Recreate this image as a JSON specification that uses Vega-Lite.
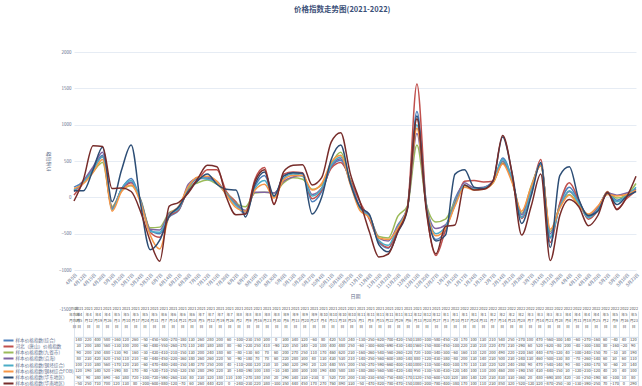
{
"$schema": "https://vega.github.io/schema/vega-lite/v6.json",
"background": "white",
"padding": {"left": 1, "top": 6, "right": 4, "bottom": 2},
"title": {"text": "价格指数走势图(2021-2022)", "fontSize": 7.5, "font": "Noto Sans CJK SC", "color": "#3b5078", "fontWeight": "bold", "anchor": "middle", "dx": 20, "offset": 35.5},
"config": {
  "font": "Noto Sans CJK SC",
  "view": {"stroke": null},
  "axis": {"labelFont": "Noto Sans CJK SC", "labelFontSize": 4.5, "labelColor": "#5f6f8c", "titleFont": "Noto Sans CJK SC", "titleFontSize": 5, "titleColor": "#5f6f8c", "titleFontWeight": "normal", "domain": false, "ticks": false, "gridColor": "#dfe7f1", "gridWidth": 0.8},
  "concat": {"spacing": 6}
},
"datasets": {
  "names": [
    {"k": 1, "name": "样本价格指数(综合)"},
    {"k": 2, "name": "河北（唐山）价格指数"},
    {"k": 3, "name": "样本价格指数(九省市)"},
    {"k": 4, "name": "样本价格指数(沿海)"},
    {"k": 5, "name": "样本价格指数(钢坯综合)"},
    {"k": 6, "name": "样本价格指数(钢材综合FOB)"},
    {"k": 7, "name": "样本价格指数(华东地区)"},
    {"k": 8, "name": "样本价格指数(华南地区)"}
  ]
},
"data": {"values": [
{"d":"2021-04-05","k":1,"v":140},{"d":"2021-04-05","k":2,"v":30},{"d":"2021-04-05","k":3,"v":90},{"d":"2021-04-05","k":4,"v":80},{"d":"2021-04-05","k":5,"v":100},{"d":"2021-04-05","k":6,"v":120},{"d":"2021-04-05","k":7,"v":90},{"d":"2021-04-05","k":8,"v":-50},
{"d":"2021-04-12","k":1,"v":220},{"d":"2021-04-12","k":2,"v":200},{"d":"2021-04-12","k":3,"v":200},{"d":"2021-04-12","k":4,"v":230},{"d":"2021-04-12","k":5,"v":210},{"d":"2021-04-12","k":6,"v":190},{"d":"2021-04-12","k":7,"v":90},{"d":"2021-04-12","k":8,"v":250},
{"d":"2021-04-19","k":1,"v":400},{"d":"2021-04-19","k":2,"v":380},{"d":"2021-04-19","k":3,"v":350},{"d":"2021-04-19","k":4,"v":420},{"d":"2021-04-19","k":5,"v":380},{"d":"2021-04-19","k":6,"v":340},{"d":"2021-04-19","k":7,"v":380},{"d":"2021-04-19","k":8,"v":710},
{"d":"2021-04-26","k":1,"v":580},{"d":"2021-04-26","k":2,"v":560},{"d":"2021-04-26","k":3,"v":480},{"d":"2021-04-26","k":4,"v":620},{"d":"2021-04-26","k":5,"v":560},{"d":"2021-04-26","k":6,"v":520},{"d":"2021-04-26","k":7,"v":690},{"d":"2021-04-26","k":8,"v":700},
{"d":"2021-05-03","k":1,"v":-160},{"d":"2021-05-03","k":2,"v":-130},{"d":"2021-05-03","k":3,"v":-130},{"d":"2021-05-03","k":4,"v":-150},{"d":"2021-05-03","k":5,"v":-170},{"d":"2021-05-03","k":6,"v":-190},{"d":"2021-05-03","k":7,"v":-60},{"d":"2021-05-03","k":8,"v":120},
{"d":"2021-05-10","k":1,"v":120},{"d":"2021-05-10","k":2,"v":100},{"d":"2021-05-10","k":3,"v":90},{"d":"2021-05-10","k":4,"v":110},{"d":"2021-05-10","k":5,"v":120},{"d":"2021-05-10","k":6,"v":80},{"d":"2021-05-10","k":7,"v":380},{"d":"2021-05-10","k":8,"v":130},
{"d":"2021-05-17","k":1,"v":260},{"d":"2021-05-17","k":2,"v":200},{"d":"2021-05-17","k":3,"v":160},{"d":"2021-05-17","k":4,"v":210},{"d":"2021-05-17","k":5,"v":230},{"d":"2021-05-17","k":6,"v":170},{"d":"2021-05-17","k":7,"v":720},{"d":"2021-05-17","k":8,"v":80},
{"d":"2021-05-24","k":1,"v":-50},{"d":"2021-05-24","k":2,"v":-60},{"d":"2021-05-24","k":3,"v":-30},{"d":"2021-05-24","k":4,"v":-40},{"d":"2021-05-24","k":5,"v":-60},{"d":"2021-05-24","k":6,"v":-80},{"d":"2021-05-24","k":7,"v":-100},{"d":"2021-05-24","k":8,"v":-200},
{"d":"2021-05-31","k":1,"v":-450},{"d":"2021-05-31","k":2,"v":-480},{"d":"2021-05-31","k":3,"v":-420},{"d":"2021-05-31","k":4,"v":-440},{"d":"2021-05-31","k":5,"v":-470},{"d":"2021-05-31","k":6,"v":-520},{"d":"2021-05-31","k":7,"v":-720},{"d":"2021-05-31","k":8,"v":-600},
{"d":"2021-06-07","k":1,"v":-500},{"d":"2021-06-07","k":2,"v":-550},{"d":"2021-06-07","k":3,"v":-410},{"d":"2021-06-07","k":4,"v":-450},{"d":"2021-06-07","k":5,"v":-480},{"d":"2021-06-07","k":6,"v":-710},{"d":"2021-06-07","k":7,"v":-590},{"d":"2021-06-07","k":8,"v":-880},
{"d":"2021-06-14","k":1,"v":-270},{"d":"2021-06-14","k":2,"v":-260},{"d":"2021-06-14","k":3,"v":-210},{"d":"2021-06-14","k":4,"v":-220},{"d":"2021-06-14","k":5,"v":-240},{"d":"2021-06-14","k":6,"v":-250},{"d":"2021-06-14","k":7,"v":-260},{"d":"2021-06-14","k":8,"v":-120},
{"d":"2021-06-21","k":1,"v":-180},{"d":"2021-06-21","k":2,"v":-170},{"d":"2021-06-21","k":3,"v":-150},{"d":"2021-06-21","k":4,"v":-160},{"d":"2021-06-21","k":5,"v":-150},{"d":"2021-06-21","k":6,"v":-120},{"d":"2021-06-21","k":7,"v":-130},{"d":"2021-06-21","k":8,"v":-70},
{"d":"2021-06-28","k":1,"v":130},{"d":"2021-06-28","k":2,"v":110},{"d":"2021-06-28","k":3,"v":130},{"d":"2021-06-28","k":4,"v":180},{"d":"2021-06-28","k":5,"v":140},{"d":"2021-06-28","k":6,"v":150},{"d":"2021-06-28","k":7,"v":80},{"d":"2021-06-28","k":8,"v":60},
{"d":"2021-07-05","k":1,"v":260},{"d":"2021-07-05","k":2,"v":240},{"d":"2021-07-05","k":3,"v":200},{"d":"2021-07-05","k":4,"v":260},{"d":"2021-07-05","k":5,"v":270},{"d":"2021-07-05","k":6,"v":280},{"d":"2021-07-05","k":7,"v":230},{"d":"2021-07-05","k":8,"v":260},
{"d":"2021-07-12","k":1,"v":280},{"d":"2021-07-12","k":2,"v":380},{"d":"2021-07-12","k":3,"v":240},{"d":"2021-07-12","k":4,"v":260},{"d":"2021-07-12","k":5,"v":250},{"d":"2021-07-12","k":6,"v":290},{"d":"2021-07-12","k":7,"v":320},{"d":"2021-07-12","k":8,"v":440},
{"d":"2021-07-19","k":1,"v":200},{"d":"2021-07-19","k":2,"v":380},{"d":"2021-07-19","k":3,"v":180},{"d":"2021-07-19","k":4,"v":220},{"d":"2021-07-19","k":5,"v":200},{"d":"2021-07-19","k":6,"v":220},{"d":"2021-07-19","k":7,"v":180},{"d":"2021-07-19","k":8,"v":420},
{"d":"2021-07-26","k":1,"v":60},{"d":"2021-07-26","k":2,"v":80},{"d":"2021-07-26","k":3,"v":60},{"d":"2021-07-26","k":4,"v":50},{"d":"2021-07-26","k":5,"v":40},{"d":"2021-07-26","k":6,"v":30},{"d":"2021-07-26","k":7,"v":110},{"d":"2021-07-26","k":8,"v":0},
{"d":"2021-08-02","k":1,"v":-100},{"d":"2021-08-02","k":2,"v":-60},{"d":"2021-08-02","k":3,"v":-80},{"d":"2021-08-02","k":4,"v":-90},{"d":"2021-08-02","k":5,"v":-110},{"d":"2021-08-02","k":6,"v":-140},{"d":"2021-08-02","k":7,"v":100},{"d":"2021-08-02","k":8,"v":-240},
{"d":"2021-08-09","k":1,"v":-230},{"d":"2021-08-09","k":2,"v":-220},{"d":"2021-08-09","k":3,"v":-130},{"d":"2021-08-09","k":4,"v":-180},{"d":"2021-08-09","k":5,"v":-200},{"d":"2021-08-09","k":6,"v":-190},{"d":"2021-08-09","k":7,"v":-270},{"d":"2021-08-09","k":8,"v":-230},
{"d":"2021-08-16","k":1,"v":150},{"d":"2021-08-16","k":2,"v":250},{"d":"2021-08-16","k":3,"v":60},{"d":"2021-08-16","k":4,"v":70},{"d":"2021-08-16","k":5,"v":120},{"d":"2021-08-16","k":6,"v":100},{"d":"2021-08-16","k":7,"v":180},{"d":"2021-08-16","k":8,"v":220},
{"d":"2021-08-23","k":1,"v":300},{"d":"2021-08-23","k":2,"v":410},{"d":"2021-08-23","k":3,"v":70},{"d":"2021-08-23","k":4,"v":70},{"d":"2021-08-23","k":5,"v":230},{"d":"2021-08-23","k":6,"v":180},{"d":"2021-08-23","k":7,"v":350},{"d":"2021-08-23","k":8,"v":380},
{"d":"2021-08-30","k":1,"v":0},{"d":"2021-08-30","k":2,"v":-90},{"d":"2021-08-30","k":3,"v":60},{"d":"2021-08-30","k":4,"v":60},{"d":"2021-08-30","k":5,"v":10},{"d":"2021-08-30","k":6,"v":-10},{"d":"2021-08-30","k":7,"v":20},{"d":"2021-08-30","k":8,"v":-100},
{"d":"2021-09-06","k":1,"v":300},{"d":"2021-09-06","k":2,"v":320},{"d":"2021-09-06","k":3,"v":200},{"d":"2021-09-06","k":4,"v":220},{"d":"2021-09-06","k":5,"v":260},{"d":"2021-09-06","k":6,"v":240},{"d":"2021-09-06","k":7,"v":290},{"d":"2021-09-06","k":8,"v":350},
{"d":"2021-09-13","k":1,"v":340},{"d":"2021-09-13","k":2,"v":350},{"d":"2021-09-13","k":3,"v":270},{"d":"2021-09-13","k":4,"v":280},{"d":"2021-09-13","k":5,"v":320},{"d":"2021-09-13","k":6,"v":300},{"d":"2021-09-13","k":7,"v":340},{"d":"2021-09-13","k":8,"v":440},
{"d":"2021-09-20","k":1,"v":320},{"d":"2021-09-20","k":2,"v":340},{"d":"2021-09-20","k":3,"v":250},{"d":"2021-09-20","k":4,"v":300},{"d":"2021-09-20","k":5,"v":290},{"d":"2021-09-20","k":6,"v":300},{"d":"2021-09-20","k":7,"v":330},{"d":"2021-09-20","k":8,"v":450},
{"d":"2021-09-27","k":1,"v":-60},{"d":"2021-09-27","k":2,"v":-20},{"d":"2021-09-27","k":3,"v":110},{"d":"2021-09-27","k":4,"v":40},{"d":"2021-09-27","k":5,"v":20},{"d":"2021-09-27","k":6,"v":100},{"d":"2021-09-27","k":7,"v":-230},{"d":"2021-09-27","k":8,"v":170},
{"d":"2021-10-04","k":1,"v":80},{"d":"2021-10-04","k":2,"v":100},{"d":"2021-10-04","k":3,"v":170},{"d":"2021-10-04","k":4,"v":130},{"d":"2021-10-04","k":5,"v":120},{"d":"2021-10-04","k":6,"v":190},{"d":"2021-10-04","k":7,"v":0},{"d":"2021-10-04","k":8,"v":270},
{"d":"2021-10-11","k":1,"v":420},{"d":"2021-10-11","k":2,"v":400},{"d":"2021-10-11","k":3,"v":460},{"d":"2021-10-11","k":4,"v":430},{"d":"2021-10-11","k":5,"v":440},{"d":"2021-10-11","k":6,"v":480},{"d":"2021-10-11","k":7,"v":520},{"d":"2021-10-11","k":8,"v":760},
{"d":"2021-10-18","k":1,"v":510},{"d":"2021-10-18","k":2,"v":480},{"d":"2021-10-18","k":3,"v":620},{"d":"2021-10-18","k":4,"v":530},{"d":"2021-10-18","k":5,"v":555},{"d":"2021-10-18","k":6,"v":580},{"d":"2021-10-18","k":7,"v":720},{"d":"2021-10-18","k":8,"v":890},
{"d":"2021-10-25","k":1,"v":240},{"d":"2021-10-25","k":2,"v":250},{"d":"2021-10-25","k":3,"v":230},{"d":"2021-10-25","k":4,"v":210},{"d":"2021-10-25","k":5,"v":200},{"d":"2021-10-25","k":6,"v":180},{"d":"2021-10-25","k":7,"v":200},{"d":"2021-10-25","k":8,"v":330},
{"d":"2021-11-01","k":1,"v":-130},{"d":"2021-11-01","k":2,"v":-60},{"d":"2021-11-01","k":3,"v":-160},{"d":"2021-11-01","k":4,"v":-140},{"d":"2021-11-01","k":5,"v":-150},{"d":"2021-11-01","k":6,"v":-180},{"d":"2021-11-01","k":7,"v":-130},{"d":"2021-11-01","k":8,"v":-50},
{"d":"2021-11-08","k":1,"v":-250},{"d":"2021-11-08","k":2,"v":-300},{"d":"2021-11-08","k":3,"v":-260},{"d":"2021-11-08","k":4,"v":-250},{"d":"2021-11-08","k":5,"v":-270},{"d":"2021-11-08","k":6,"v":-280},{"d":"2021-11-08","k":7,"v":-230},{"d":"2021-11-08","k":8,"v":-470},
{"d":"2021-11-15","k":1,"v":-620},{"d":"2021-11-15","k":2,"v":-600},{"d":"2021-11-15","k":3,"v":-540},{"d":"2021-11-15","k":4,"v":-560},{"d":"2021-11-15","k":5,"v":-590},{"d":"2021-11-15","k":6,"v":-560},{"d":"2021-11-15","k":7,"v":-650},{"d":"2021-11-15","k":8,"v":-820},
{"d":"2021-11-22","k":1,"v":-700},{"d":"2021-11-22","k":2,"v":-690},{"d":"2021-11-22","k":3,"v":-560},{"d":"2021-11-22","k":4,"v":-600},{"d":"2021-11-22","k":5,"v":-660},{"d":"2021-11-22","k":6,"v":-580},{"d":"2021-11-22","k":7,"v":-750},{"d":"2021-11-22","k":8,"v":-780},
{"d":"2021-11-29","k":1,"v":-420},{"d":"2021-11-29","k":2,"v":-430},{"d":"2021-11-29","k":3,"v":-260},{"d":"2021-11-29","k":4,"v":-380},{"d":"2021-11-29","k":5,"v":-400},{"d":"2021-11-29","k":6,"v":-420},{"d":"2021-11-29","k":7,"v":-480},{"d":"2021-11-29","k":8,"v":-470},
{"d":"2021-12-06","k":1,"v":-150},{"d":"2021-12-06","k":2,"v":-140},{"d":"2021-12-06","k":3,"v":-120},{"d":"2021-12-06","k":4,"v":-140},{"d":"2021-12-06","k":5,"v":-140},{"d":"2021-12-06","k":6,"v":-140},{"d":"2021-12-06","k":7,"v":-170},{"d":"2021-12-06","k":8,"v":-150},
{"d":"2021-12-13","k":1,"v":1180},{"d":"2021-12-13","k":2,"v":1560},{"d":"2021-12-13","k":3,"v":720},{"d":"2021-12-13","k":4,"v":880},{"d":"2021-12-13","k":5,"v":1000},{"d":"2021-12-13","k":6,"v":950},{"d":"2021-12-13","k":7,"v":1120},{"d":"2021-12-13","k":8,"v":1080},
{"d":"2021-12-20","k":1,"v":-100},{"d":"2021-12-20","k":2,"v":-150},{"d":"2021-12-20","k":3,"v":-100},{"d":"2021-12-20","k":4,"v":-120},{"d":"2021-12-20","k":5,"v":-110},{"d":"2021-12-20","k":6,"v":-130},{"d":"2021-12-20","k":7,"v":-150},{"d":"2021-12-20","k":8,"v":-200},
{"d":"2021-12-27","k":1,"v":-580},{"d":"2021-12-27","k":2,"v":-800},{"d":"2021-12-27","k":3,"v":-340},{"d":"2021-12-27","k":4,"v":-430},{"d":"2021-12-27","k":5,"v":-500},{"d":"2021-12-27","k":6,"v":-530},{"d":"2021-12-27","k":7,"v":-600},{"d":"2021-12-27","k":8,"v":-780},
{"d":"2022-01-03","k":1,"v":-450},{"d":"2022-01-03","k":2,"v":-450},{"d":"2022-01-03","k":3,"v":-300},{"d":"2022-01-03","k":4,"v":-380},{"d":"2022-01-03","k":5,"v":-400},{"d":"2022-01-03","k":6,"v":-430},{"d":"2022-01-03","k":7,"v":-520},{"d":"2022-01-03","k":8,"v":-400},
{"d":"2022-01-10","k":1,"v":-20},{"d":"2022-01-10","k":2,"v":-100},{"d":"2022-01-10","k":3,"v":-60},{"d":"2022-01-10","k":4,"v":-80},{"d":"2022-01-10","k":5,"v":-100},{"d":"2022-01-10","k":6,"v":-120},{"d":"2022-01-10","k":7,"v":320},{"d":"2022-01-10","k":8,"v":-380},
{"d":"2022-01-17","k":1,"v":170},{"d":"2022-01-17","k":2,"v":220},{"d":"2022-01-17","k":3,"v":160},{"d":"2022-01-17","k":4,"v":200},{"d":"2022-01-17","k":5,"v":170},{"d":"2022-01-17","k":6,"v":140},{"d":"2022-01-17","k":7,"v":380},{"d":"2022-01-17","k":8,"v":170},
{"d":"2022-01-24","k":1,"v":100},{"d":"2022-01-24","k":2,"v":230},{"d":"2022-01-24","k":3,"v":110},{"d":"2022-01-24","k":4,"v":130},{"d":"2022-01-24","k":5,"v":110},{"d":"2022-01-24","k":6,"v":100},{"d":"2022-01-24","k":7,"v":140},{"d":"2022-01-24","k":8,"v":100},
{"d":"2022-01-31","k":1,"v":130},{"d":"2022-01-31","k":2,"v":210},{"d":"2022-01-31","k":3,"v":120},{"d":"2022-01-31","k":4,"v":140},{"d":"2022-01-31","k":5,"v":130},{"d":"2022-01-31","k":6,"v":110},{"d":"2022-01-31","k":7,"v":120},{"d":"2022-01-31","k":8,"v":110},
{"d":"2022-02-07","k":1,"v":210},{"d":"2022-02-07","k":2,"v":220},{"d":"2022-02-07","k":3,"v":200},{"d":"2022-02-07","k":4,"v":230},{"d":"2022-02-07","k":5,"v":220},{"d":"2022-02-07","k":6,"v":200},{"d":"2022-02-07","k":7,"v":230},{"d":"2022-02-07","k":8,"v":230},
{"d":"2022-02-14","k":1,"v":540},{"d":"2022-02-14","k":2,"v":470},{"d":"2022-02-14","k":3,"v":490},{"d":"2022-02-14","k":4,"v":500},{"d":"2022-02-14","k":5,"v":520},{"d":"2022-02-14","k":6,"v":460},{"d":"2022-02-14","k":7,"v":830},{"d":"2022-02-14","k":8,"v":850},
{"d":"2022-02-21","k":1,"v":250},{"d":"2022-02-21","k":2,"v":230},{"d":"2022-02-21","k":3,"v":220},{"d":"2022-02-21","k":4,"v":230},{"d":"2022-02-21","k":5,"v":240},{"d":"2022-02-21","k":6,"v":200},{"d":"2022-02-21","k":7,"v":330},{"d":"2022-02-21","k":8,"v":320},
{"d":"2022-02-28","k":1,"v":-270},{"d":"2022-02-28","k":2,"v":-290},{"d":"2022-02-28","k":3,"v":-220},{"d":"2022-02-28","k":4,"v":-240},{"d":"2022-02-28","k":5,"v":-280},{"d":"2022-02-28","k":6,"v":-190},{"d":"2022-02-28","k":7,"v":-360},{"d":"2022-02-28","k":8,"v":-520},
{"d":"2022-03-07","k":1,"v":100},{"d":"2022-03-07","k":2,"v":60},{"d":"2022-03-07","k":3,"v":160},{"d":"2022-03-07","k":4,"v":130},{"d":"2022-03-07","k":5,"v":90},{"d":"2022-03-07","k":6,"v":150},{"d":"2022-03-07","k":7,"v":20},{"d":"2022-03-07","k":8,"v":-120},
{"d":"2022-03-14","k":1,"v":470},{"d":"2022-03-14","k":2,"v":520},{"d":"2022-03-14","k":3,"v":440},{"d":"2022-03-14","k":4,"v":460},{"d":"2022-03-14","k":5,"v":470},{"d":"2022-03-14","k":6,"v":430},{"d":"2022-03-14","k":7,"v":480},{"d":"2022-03-14","k":8,"v":320},
{"d":"2022-03-21","k":1,"v":-560},{"d":"2022-03-21","k":2,"v":-620},{"d":"2022-03-21","k":3,"v":-470},{"d":"2022-03-21","k":4,"v":-500},{"d":"2022-03-21","k":5,"v":-540},{"d":"2022-03-21","k":6,"v":-440},{"d":"2022-03-21","k":7,"v":-690},{"d":"2022-03-21","k":8,"v":-870},
{"d":"2022-03-28","k":1,"v":-100},{"d":"2022-03-28","k":2,"v":-80},{"d":"2022-03-28","k":3,"v":-120},{"d":"2022-03-28","k":4,"v":-130},{"d":"2022-03-28","k":5,"v":-140},{"d":"2022-03-28","k":6,"v":-150},{"d":"2022-03-28","k":7,"v":300},{"d":"2022-03-28","k":8,"v":-250},
{"d":"2022-04-04","k":1,"v":140},{"d":"2022-04-04","k":2,"v":200},{"d":"2022-04-04","k":3,"v":40},{"d":"2022-04-04","k":4,"v":80},{"d":"2022-04-04","k":5,"v":90},{"d":"2022-04-04","k":6,"v":30},{"d":"2022-04-04","k":7,"v":420},{"d":"2022-04-04","k":8,"v":-30},
{"d":"2022-04-11","k":1,"v":-60},{"d":"2022-04-11","k":2,"v":-40},{"d":"2022-04-11","k":3,"v":-100},{"d":"2022-04-11","k":4,"v":-70},{"d":"2022-04-11","k":5,"v":-80},{"d":"2022-04-11","k":6,"v":-120},{"d":"2022-04-11","k":7,"v":-30},{"d":"2022-04-11","k":8,"v":-130},
{"d":"2022-04-18","k":1,"v":-270},{"d":"2022-04-18","k":2,"v":-300},{"d":"2022-04-18","k":3,"v":-240},{"d":"2022-04-18","k":4,"v":-260},{"d":"2022-04-18","k":5,"v":-280},{"d":"2022-04-18","k":6,"v":-230},{"d":"2022-04-18","k":7,"v":-250},{"d":"2022-04-18","k":8,"v":-390},
{"d":"2022-04-25","k":1,"v":-160},{"d":"2022-04-25","k":2,"v":-180},{"d":"2022-04-25","k":3,"v":-150},{"d":"2022-04-25","k":4,"v":-140},{"d":"2022-04-25","k":5,"v":-170},{"d":"2022-04-25","k":6,"v":-120},{"d":"2022-04-25","k":7,"v":-190},{"d":"2022-04-25","k":8,"v":-250},
{"d":"2022-05-02","k":1,"v":60},{"d":"2022-05-02","k":2,"v":80},{"d":"2022-05-02","k":3,"v":70},{"d":"2022-05-02","k":4,"v":60},{"d":"2022-05-02","k":5,"v":50},{"d":"2022-05-02","k":6,"v":40},{"d":"2022-05-02","k":7,"v":60},{"d":"2022-05-02","k":8,"v":70},
{"d":"2022-05-09","k":1,"v":-40},{"d":"2022-05-09","k":2,"v":-160},{"d":"2022-05-09","k":3,"v":-10},{"d":"2022-05-09","k":4,"v":30},{"d":"2022-05-09","k":5,"v":-60},{"d":"2022-05-09","k":6,"v":20},{"d":"2022-05-09","k":7,"v":-100},{"d":"2022-05-09","k":8,"v":-170},
{"d":"2022-05-16","k":1,"v":40},{"d":"2022-05-16","k":2,"v":-20},{"d":"2022-05-16","k":3,"v":30},{"d":"2022-05-16","k":4,"v":60},{"d":"2022-05-16","k":5,"v":20},{"d":"2022-05-16","k":6,"v":40},{"d":"2022-05-16","k":7,"v":10},{"d":"2022-05-16","k":8,"v":0},
{"d":"2022-05-23","k":1,"v":120},{"d":"2022-05-23","k":2,"v":90},{"d":"2022-05-23","k":3,"v":190},{"d":"2022-05-23","k":4,"v":110},{"d":"2022-05-23","k":5,"v":140},{"d":"2022-05-23","k":6,"v":100},{"d":"2022-05-23","k":7,"v":80},{"d":"2022-05-23","k":8,"v":290}
]},
"transform": [{"lookup": "k", "from": {"data": {"name": "names"}, "key": "k", "fields": ["name"]}}],
"vconcat": [
  {
    "width": 562, "height": 218,
    "mark": {"type": "line", "interpolate": "monotone", "strokeWidth": 1.5},
    "encoding": {
      "x": {"field": "d", "type": "ordinal", "scale": {"type": "point", "padding": 0},
        "axis": {"title": "日期", "labelAngle": -45, "labelExpr": "utcFormat(toDate(datum.value), '%-m月%-d日')", "labelPadding": 2, "titlePadding": 5, "labelOverlap": false}},
      "y": {"field": "v", "type": "quantitative", "scale": {"domain": [-1000, 2000], "nice": false},
        "axis": {"title": "价格指数", "format": "d", "values": [-1000, -500, 0, 500, 1000, 1500, 2000], "grid": true, "labelPadding": 3, "titlePadding": 8}},
      "color": {"field": "name", "type": "nominal",
        "scale": {"domain": ["样本价格指数(综合)", "河北（唐山）价格指数", "样本价格指数(九省市)", "样本价格指数(沿海)", "样本价格指数(钢坯综合)", "样本价格指数(钢材综合FOB)", "样本价格指数(华东地区)", "样本价格指数(华南地区)"],
          "range": ["#4F81BD", "#C0504D", "#9BBB59", "#8064A2", "#4BACC6", "#F79646", "#2C4D75", "#772C2A"]},
        "legend": null}
    }
  },
  {
    "width": 564, "height": 50,
    "title": {"text": "-1500", "orient": "none", "anchor": "start", "align": "right", "baseline": "middle", "dx": -3, "dy": -27, "fontSize": 4.5, "color": "#5f6f8c", "fontWeight": "normal", "font": "Noto Sans CJK SC"},
    "view": {"stroke": "#d5dfeb", "strokeWidth": 0.8},
    "resolve": {"axis": {"y": "independent"}},
    "layer": [
      {
        "mark": {"type": "text", "fontSize": 4.0, "color": "#444444"},
        "encoding": {
          "x": {"field": "d", "type": "ordinal", "scale": {"paddingInner": 0, "paddingOuter": 0},
            "axis": {"orient": "top", "title": null, "labelAngle": 0, "labelFontSize": 3.9, "labelLineHeight": 6.2, "labelPadding": 1, "labelColor": "#555555",
              "labelExpr": "[utcFormat(toDate(datum.value),'%Y'), '年' + utcFormat(toDate(datum.value),'%-m'), '月' + utcFormat(toDate(datum.value),'%-d'), '日']",
              "ticks": true, "tickBand": "extent", "tickSize": 26, "tickColor": "#d5dfeb", "tickWidth": 0.8, "grid": true, "gridColor": "#d5dfeb", "labelOverlap": false}},
          "y": {"field": "name", "type": "nominal",
            "sort": ["样本价格指数(综合)", "河北（唐山）价格指数", "样本价格指数(九省市)", "样本价格指数(沿海)", "样本价格指数(钢坯综合)", "样本价格指数(钢材综合FOB)", "样本价格指数(华东地区)", "样本价格指数(华南地区)"],
            "axis": {"orient": "left", "title": null, "ticks": false, "grid": true, "tickBand": "extent", "gridColor": "#d5dfeb", "labelAlign": "left", "labelPadding": 59, "labelFontSize": 4.6, "labelColor": "#5f6f8c", "labelLimit": 60}},
          "text": {"field": "v", "type": "quantitative", "format": "d"}
        }
      },
      {
        "mark": {"type": "text", "opacity": 0},
        "encoding": {
          "x": {"field": "d", "type": "ordinal"},
          "y": {"field": "name", "type": "nominal",
            "sort": ["样本价格指数(综合)", "河北（唐山）价格指数", "样本价格指数(九省市)", "样本价格指数(沿海)", "样本价格指数(钢坯综合)", "样本价格指数(钢材综合FOB)", "样本价格指数(华东地区)", "样本价格指数(华南地区)"],
            "axis": {"orient": "left", "title": null, "labels": false, "grid": false, "domain": false, "ticks": true, "offset": 61, "tickSize": 10, "tickWidth": 2,
              "tickColor": {"condition": [
                {"test": "datum.value === '样本价格指数(综合)'", "value": "#4F81BD"},
                {"test": "datum.value === '河北（唐山）价格指数'", "value": "#C0504D"},
                {"test": "datum.value === '样本价格指数(九省市)'", "value": "#9BBB59"},
                {"test": "datum.value === '样本价格指数(沿海)'", "value": "#8064A2"},
                {"test": "datum.value === '样本价格指数(钢坯综合)'", "value": "#4BACC6"},
                {"test": "datum.value === '样本价格指数(钢材综合FOB)'", "value": "#F79646"},
                {"test": "datum.value === '样本价格指数(华东地区)'", "value": "#2C4D75"}
              ], "value": "#772C2A"}}},
          "text": {"field": "v", "type": "quantitative"}
        }
      }
    ]
  }
]
}
